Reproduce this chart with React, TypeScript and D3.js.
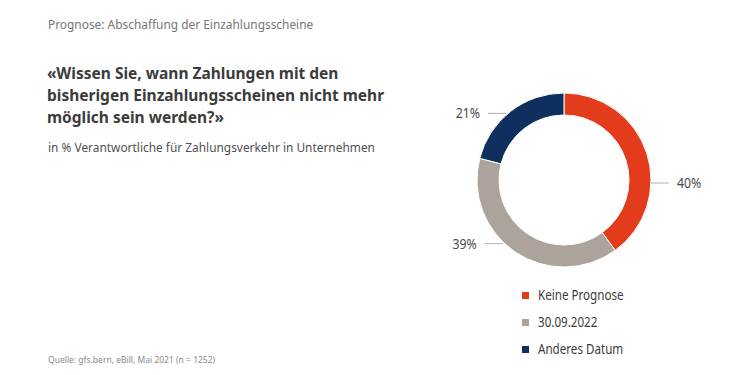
import React from "react";
import * as d3 from "d3";

const categories = ["Keine Prognose", "30.09.2022", "Anderes Datum"];
const values = [40, 39, 21];
const valueLabels = ["40%", "39%", "21%"];
const colors = ["#e23c1c", "#aca49b", "#0f2f5f"];

const W = 750;
const H = 375;
const cx = 564;
const cy = 180;
const outerR = 87;
const innerR = 65;
// label anchor angles (degrees, clockwise from top) chosen to mimic the reference layout
const labelAngles = [92, 223, 320];

const condensed = 0.82;
const legendCondensed = 0.775;

export default function App() {
  const pie = d3.pie<number>().sort(null).value((d) => d)(values);
  const arc = d3.arc<d3.PieArcDatum<number>>().innerRadius(innerR).outerRadius(outerR);
  const legendY = d3.scalePoint<string>().domain(categories).range([295, 349]);

  return (
    <svg width={W} height={H} style={{ position: "absolute", left: 0, top: 0, background: "#fff" }}
      fontFamily="'Noto Sans', 'Open Sans', sans-serif">
      <text x={48} y={29} fontSize={11.9} fill="#767676">Prognose: Abschaffung der Einzahlungsscheine</text>
      <g fontSize={15.5} fontWeight="bold" fill="#3c3c3c">
        <text x={47} y={79}>«Wissen Sie, wann Zahlungen mit den</text>
        <text x={47} y={101}>bisherigen Einzahlungsscheinen nicht mehr</text>
        <text x={47} y={123}>möglich sein werden?»</text>
      </g>
      <text x={48} y={152} fontSize={11.9} fill="#505050">in % Verantwortliche für Zahlungsverkehr in Unternehmen</text>
      <text x={48} y={363} fontSize={8.5} fill="#8a8a8a">Quelle: gfs.bern, eBill, Mai 2021 (n = 1252)</text>

      <g transform={`translate(${cx},${cy})`}>
        {pie.map((p, i) => (
          <path key={i} d={arc(p) || ""} fill={colors[i]} stroke="#fff" strokeWidth={1} />
        ))}
        {pie.map((p, i) => {
          const a = (labelAngles[i] * Math.PI) / 180;
          const y = -Math.cos(a) * outerR;
          const xEdge = Math.sin(a) * outerR;
          const right = xEdge > 0;
          const x1 = xEdge + (right ? 0 : -2);
          const x2 = right ? xEdge + 18 : xEdge - 20;
          const tx = right ? x2 + 8 : x2 - 8;
          return (
            <g key={"l" + i}>
              <line x1={x1} y1={y} x2={x2} y2={y} stroke="#b0b0b0" strokeWidth={1} />
              <text x={tx} y={y + 5} fontSize={15} fill="#4a4a4a" textAnchor={right ? "start" : "end"}
                transform={`translate(${tx},0) scale(${condensed},1) translate(${-tx},0)`}>
                {valueLabels[i]}
              </text>
            </g>
          );
        })}
      </g>

      {categories.map((c, i) => {
        const y = legendY(c) as number;
        return (
          <g key={c}>
            <rect x={522} y={y - 3} width={7} height={7} fill={colors[i]} />
            <text x={538} y={y + 5} fontSize={15} fill="#3c3c3c"
              transform={`translate(538,0) scale(${legendCondensed},1) translate(-538,0)`}>{c}</text>
          </g>
        );
      })}
    </svg>
  );
}
